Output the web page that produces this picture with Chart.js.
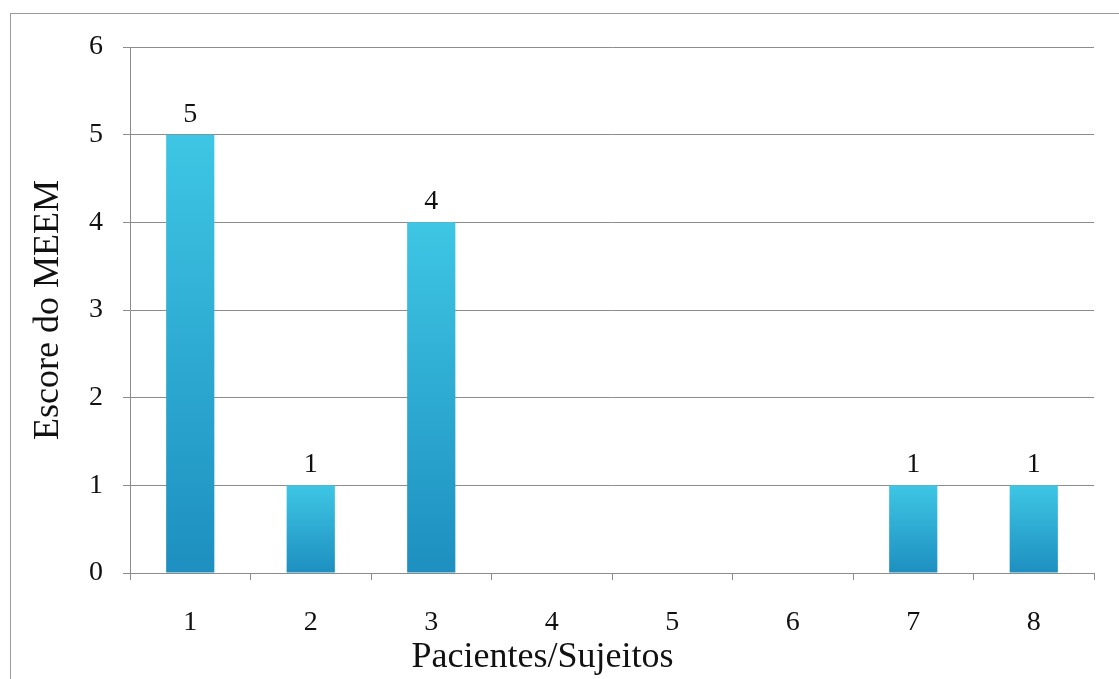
<!DOCTYPE html>
<html>
<head>
<meta charset="utf-8">
<script src="https://cdn.jsdelivr.net/npm/chart.js@4.4.1/dist/chart.umd.min.js"></script>
<style>
  html, body { margin: 0; padding: 0; background: #ffffff; }
  #wrap { position: relative; width: 1119px; height: 679px; overflow: hidden; }
  #frame { position: absolute; left: 10px; top: 13px; width: 1200px; height: 800px;
           border-left: 1px solid #9a9a9a; border-top: 1px solid #9a9a9a; box-sizing: border-box; }
  canvas { position: absolute; left: 0; top: 0; }
</style>
</head>
<body>
<div id="wrap">
  <div id="frame"></div>
  <canvas id="chart" width="1119" height="679"></canvas>
</div>
<script>
// Pacientes e respectivos escores do MEEM
const categories = ['1', '2', '3', '4', '5', '6', '7', '8'];
const scores = [5, 1, 4, 0, 0, 0, 1, 1];
const yTicks = [0, 1, 2, 3, 4, 5, 6];
const xTitle = 'Pacientes/Sujeitos';
const yTitle = 'Escore do MEEM';

const SERIF = '"Liberation Serif", "Times New Roman", "DejaVu Serif", serif';
const GRID = '#8c8c8c';
const INK = '#111111';

// Vertical gradient per bar: light cyan on top, deeper blue at the base
function barGradient(ctx) {
  const chart = ctx.chart;
  const { ctx: c, scales } = chart;
  if (!scales.y || ctx.type !== 'data') return '#3cc3e2';
  const v = ctx.raw || 0;
  const yTop = scales.y.getPixelForValue(v);
  const yBase = scales.y.getPixelForValue(0);
  if (!isFinite(yTop) || !isFinite(yBase) || yTop === yBase) return '#3cc3e2';
  const g = c.createLinearGradient(0, yTop, 0, yBase);
  g.addColorStop(0, '#3ec6e4');
  g.addColorStop(1, '#1d8fc0');
  return g;
}

// Value labels above each non-zero bar
const valueLabels = {
  id: 'valueLabels',
  afterDatasetsDraw(chart) {
    const { ctx } = chart;
    const meta = chart.getDatasetMeta(0);
    ctx.save();
    ctx.font = '28px ' + SERIF;
    ctx.fillStyle = INK;
    ctx.textAlign = 'center';
    ctx.textBaseline = 'alphabetic';
    meta.data.forEach((bar, i) => {
      const v = scores[i];
      if (!v) return;
      ctx.fillText(String(v), bar.x, bar.y - 13);
    });
    ctx.restore();
  }
};

// Category axis caption, centred under the whole figure box rather than the plot
const xCaption = {
  id: 'xCaption',
  afterDraw(chart) {
    const { ctx, width } = chart;
    ctx.save();
    ctx.font = '36px ' + SERIF;
    ctx.fillStyle = INK;
    ctx.textAlign = 'center';
    ctx.textBaseline = 'alphabetic';
    ctx.fillText(xTitle, (10 + width) / 2 - 22, 667);
    ctx.restore();
  }
};

new Chart(document.getElementById('chart'), {
  type: 'bar',
  data: {
    labels: categories,
    datasets: [{
      data: scores,
      backgroundColor: barGradient,
      borderWidth: 0,
      barPercentage: 0.4,
      categoryPercentage: 1.0
    }]
  },
  options: {
    responsive: false,
    animation: false,
    events: [],
    layout: { padding: { top: 47, right: 25, left: 0, bottom: 0 } },
    plugins: { legend: { display: false }, tooltip: { enabled: false } },
    scales: {
      x: {
        offset: true,
        afterFit(scale) { scale.height = 106; },
        grid: {
          offset: true,
          drawOnChartArea: false,
          drawTicks: true,
          tickLength: 7,
          color: GRID,
          lineWidth: 1
        },
        border: { display: true, color: GRID, width: 1 },
        ticks: {
          color: INK,
          padding: 26,
          font: { family: SERIF, size: 28 }
        },
        title: { display: false }
      },
      y: {
        min: 0,
        max: 6,
        afterFit(scale) { scale.width = 130; },
        afterBuildTicks(scale) { scale.ticks = yTicks.map(v => ({ value: v })); },
        grid: {
          drawTicks: true,
          tickLength: 7,
          color: GRID,
          lineWidth: 1
        },
        border: { display: true, color: GRID, width: 1 },
        ticks: {
          color: INK,
          padding: 20,
          font: { family: SERIF, size: 28 }
        },
        title: {
          display: true,
          text: yTitle,
          color: INK,
          font: { family: SERIF, size: 36 },
          padding: { top: 27, bottom: 0 }
        }
      }
    }
  },
  plugins: [valueLabels, xCaption]
});
</script>
</body>
</html>
